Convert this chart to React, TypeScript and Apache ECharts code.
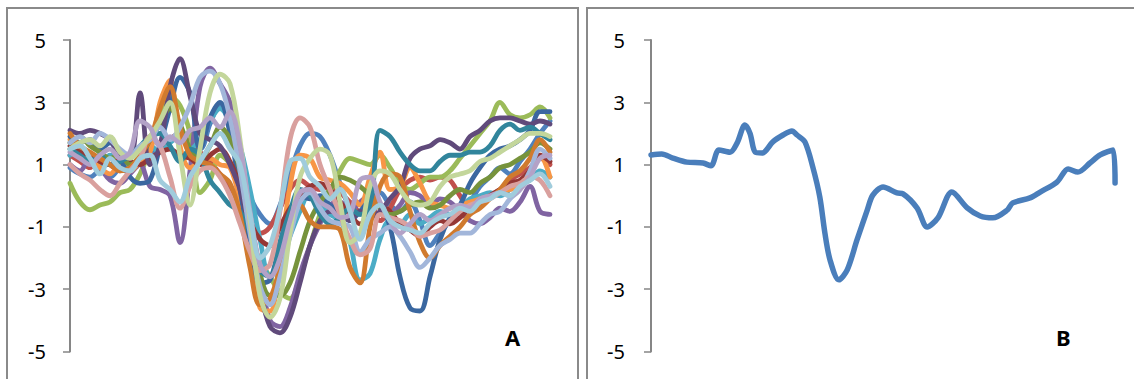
import React, { useEffect, useRef } from "react";
import * as echarts from "echarts";

// Panel A: sample positions (one every ~10 ms-equivalent step)
const samplesA: number[] = [
  0, 1, 2, 3, 4, 5, 6, 7, 8, 9, 10, 11, 12, 13, 14, 15, 16, 17, 18, 19, 20, 21, 22, 23, 24,
  25, 26, 27, 28, 29, 30, 31, 32, 33, 34, 35, 36, 37, 38, 39, 40, 41, 42, 43, 44, 45, 46, 47, 48,
];

const s01 = [0.9, 0.7, 0.6, 0.8, 0.6, 0.9, 1.1, 1.0, 1.3, 1.5, 1.8, 2.0, 1.6, 1.5, 2.3, 2.9, 2.6, 1.3, 0.0, -0.6, -0.9, -0.3, 0.7, 1.6, 2.0, 1.9, 1.3, 0.4, -0.4, -0.6, -0.2, 0.1, -0.3, -0.5, -0.2, -0.8, -1.6, -1.2, -0.8, -0.5, -0.2, 0.3, 0.6, 0.9, 0.7, 1.1, 1.5, 2.0, 2.4];
const s02 = [1.3, 1.1, 0.9, 1.2, 1.0, 0.8, 0.9, 1.2, 1.1, 1.5, 1.8, 2.0, 1.7, 1.4, 1.1, 0.7, 0.3, -0.3, -0.9, -1.2, -1.0, -0.4, 0.2, 0.5, 0.3, 0.2, 0.3, 0.1, -0.2, -0.5, -0.3, -0.8, -0.4, 0.2, 0.5, 0.6, 0.5, 0.6, 0.5, 0.0, -0.4, -0.2, 0.0, 0.2, 0.5, 0.7, 0.9, 1.2, 1.0];
const s03 = [0.4, -0.2, -0.45, -0.3, -0.2, 0.1, 0.2, 0.7, 1.5, 2.4, 3.2, 2.9, 2.0, 0.1, 0.5, 1.3, 1.0, 0.0, -1.2, -2.1, -2.6, -3.1, -3.3, -2.6, -1.6, -0.6, 0.1, 0.8, 1.2, 1.1, 1.0, 1.3, 0.9, 0.4, 0.2, 0.4, 0.6, 0.6, 0.8, 1.2, 1.6, 2.0, 2.4, 3.0, 2.6, 2.5, 2.6, 2.85, 2.5];
const s04 = [1.0, 0.8, 1.2, 0.9, 0.5, 0.4, 0.7, 1.0, 0.3, 0.2, 0.0, -1.5, 0.8, 3.5, 4.1, 3.6, 3.0, 1.5, -0.5, -2.5, -4.0, -4.2, -3.6, -2.5, -1.6, -0.9, -0.3, -0.2, -0.5, -0.2, 0.0, -0.3, -0.6, -0.3, 0.1, 0.0, -0.3, -0.1, -0.2, -0.5, -0.8, -0.9, -0.7, -0.4, -0.5, -0.2, 0.3, -0.5, -0.6];
const s05 = [1.3, 1.5, 1.2, 1.0, 1.3, 1.1, 0.9, 1.3, 1.6, 1.4, 1.7, 1.9, 1.5, 1.8, 2.4, 2.8, 2.4, 1.6, 0.2, -1.4, -2.6, -2.2, -1.3, -0.5, 0.1, -0.3, -0.6, -0.8, -1.5, -2.7, -2.5, -1.4, -0.8, -0.9, -0.6, -0.9, -0.7, -0.5, -0.6, -0.4, -0.1, 0.0, 0.1, 0.0, 0.2, 0.4, 0.5, 0.8, 0.6];
const s06 = [1.8, 1.4, 1.2, 0.9, 0.7, 1.0, 0.8, 1.1, 1.4, 3.0, 3.7, 1.6, 0.9, 1.1, 1.2, 1.0, 0.9, -0.2, -2.0, -3.6, -3.7, -2.0, 0.3, 1.3, 1.2, 0.6, 0.5, 0.4, 0.1, -0.3, 0.6, 1.4, 0.2, 0.3, 0.9, 0.4, -0.2, -0.3, -0.4, -0.3, -0.2, -0.1, 0.0, 0.1, 0.2, 0.3, 0.7, 1.3, 0.6];
const s07 = [1.9, 1.7, 1.8, 1.5, 1.7, 1.2, 0.6, 0.4, 0.5, 1.6, 2.8, 3.8, 3.3, 1.5, 2.5, 3.0, 2.0, 0.2, -1.6, -2.8, -2.7, -1.5, -0.5, 0.0, -0.1, 0.0, -0.3, -0.5, -0.8, -0.5, -0.2, -0.3, -1.0, -2.6, -3.6, -3.7, -2.6, -1.4, -0.7, -0.3, 0.4, 0.9, 1.3, 1.5, 1.6, 1.8, 2.1, 2.7, 2.7];
const s08 = [1.6, 1.4, 1.3, 1.1, 1.0, 1.2, 1.1, 1.0, 1.2, 1.4, 1.5, 1.3, 1.2, 1.0, 1.3, 1.5, 1.1, 0.3, -0.8, -1.4, -1.6, -1.0, -0.4, 0.0, 0.3, 0.4, 0.2, -0.2, -0.6, -0.9, -0.6, -0.3, -0.5, -0.9, -1.1, -1.3, -1.0, -0.8, -0.9, -0.7, -0.4, -0.3, 0.0, 0.2, 0.4, 0.5, 0.8, 1.3, 1.1];
const s09 = [1.7, 1.9, 1.6, 1.4, 1.2, 1.3, 1.0, 1.2, 1.8, 2.3, 2.8, 2.3, 1.5, 1.2, 1.6, 2.2, 1.8, 0.8, -0.8, -2.5, -3.2, -3.2, -2.8, -1.8, -0.8, -0.2, 0.2, 0.6, 0.5, 0.3, 0.0, -0.4, -0.6, -0.5, -0.3, -0.2, -0.4, -0.3, 0.0, 0.2, 0.1, 0.4, 0.6, 0.9, 1.0, 1.2, 1.4, 1.7, 1.5];
const s10 = [2.1, 2.0, 2.1, 2.0, 1.8, 1.3, 1.2, 3.3, 1.0, 1.6, 3.5, 4.4, 3.2, 2.0, 1.8, 1.6, 1.0, 0.2, -1.2, -3.0, -4.2, -4.4, -3.9, -2.8, -1.6, -0.8, -0.5, -0.6, -0.8, -0.5, -0.7, -0.5, -0.1, 0.3, 1.2, 1.5, 1.6, 1.8, 1.7, 1.5, 1.9, 2.1, 2.4, 2.5, 2.5, 2.4, 2.3, 2.4, 2.3];
const s11 = [1.5, 1.3, 1.1, 1.3, 1.0, 1.1, 1.3, 1.6, 1.9, 2.0, 1.6, 1.1, 1.5, 1.3, 0.5, 0.1, -0.3, -0.5, -1.2, -2.4, -2.6, -1.5, -0.5, 0.2, 0.0, -0.6, -0.9, -0.7, -0.4, -0.6, -0.4, 2.1, 1.9, 1.4, 1.0, 0.8, 0.8, 1.1, 1.3, 1.3, 1.4, 1.4, 1.6, 2.1, 2.3, 2.1, 2.2, 2.0, 1.8];
const s12 = [2.0, 1.6, 1.4, 1.2, 1.0, 0.8, 0.9, 1.3, 1.8, 2.8, 3.5, 2.2, 1.3, 1.1, 1.0, 0.7, 0.4, -0.6, -2.3, -3.5, -3.3, -2.3, -1.0, -0.3, -0.8, -1.0, -1.0, -1.1, -2.3, -2.8, -1.0, 0.3, 0.7, 0.6, -0.5, -1.5, -2.0, -1.6, -1.3, -1.0, -0.6, -0.4, -0.1, 0.2, 0.6, 0.8, 1.2, 1.8, 1.4];
const s13 = [1.7, 1.9, 1.7, 2.0, 1.8, 1.5, 1.3, 1.6, 1.8, 2.2, 1.8, 2.2, 2.9, 3.8, 4.0, 3.6, 2.5, 0.8, -1.2, -2.9, -3.5, -2.6, -1.3, -0.2, 0.1, -0.4, -0.8, -0.9, -1.0, -1.8, -1.4, -1.2, -1.0, -1.3, -1.8, -2.3, -2.0, -1.6, -1.4, -1.2, -1.2, -0.9, -0.6, -0.5, -0.1, 0.2, 0.8, 1.5, 1.2];
const s14 = [1.0, 0.7, 0.5, 0.2, 0.0, 0.4, 0.8, 1.2, 1.9, 1.6, 0.6, -0.4, 0.3, 0.8, 0.9, 0.6, 0.0, -0.9, -1.8, -2.4, -2.2, -0.5, 1.8, 2.5, 2.2, 1.0, 0.2, -0.6, -1.4, -1.9, -1.7, -0.6, -0.7, -0.8, -1.0, -1.3, -1.2, -1.1, -0.8, -0.5, -0.3, -0.2, -0.1, 0.1, 0.3, 0.4, 0.6, 0.5, 0.0];
const s15 = [1.5, 1.7, 1.8, 1.6, 1.9, 1.4, 1.2, 1.5, 1.9, 2.4, 3.0, 1.3, -0.3, 1.5, 3.3, 3.9, 3.6, 1.8, -0.8, -3.2, -3.9, -3.3, -1.2, 0.6, 1.2, 1.5, 1.3, -0.2, -1.5, -1.2, 0.3, 0.8, 0.7, 0.2, -0.2, -0.3, -0.2, 0.3, 0.6, 0.7, 0.8, 1.1, 1.2, 1.4, 1.6, 1.8, 2.0, 2.0, 1.9];
const s16 = [1.4, 1.2, 1.0, 1.3, 1.5, 1.2, 1.4, 2.4, 2.2, 1.6, 1.9, 1.7, 2.1, 2.2, 2.5, 2.2, 2.7, 1.6, -0.5, -2.2, -2.6, -2.0, -0.8, 0.1, 0.2, -0.2, -0.4, -0.7, -0.6, 0.5, 0.6, -0.2, -0.8, -1.2, -0.9, -0.6, -0.8, -0.6, -0.4, -0.3, -0.4, -0.1, 0.0, 0.1, 0.0, 0.2, 0.6, 1.2, 1.3];
const s17 = [1.5, 1.6, 1.2, 0.7, 1.2, 0.9, 0.8, 1.2, 1.3, 0.5, 0.2, -0.2, 0.6, 1.1, 1.6, 2.0, 1.5, 1.0, -0.6, -2.0, -1.6, -0.4, 1.1, 1.2, 0.6, 0.3, -0.1, 0.2, -0.5, -1.4, -0.6, -0.3, -0.8, -1.0, -1.1, -1.2, -0.9, -0.7, -0.6, -0.4, -0.5, -0.2, -0.1, 0.1, 0.0, 0.3, 0.5, 0.7, 0.3];

const seriesA = [s01, s02, s03, s04, s05, s06, s07, s08, s09, s10, s11, s12, s13, s14, s15, s16, s17];
const colorsA = [
  "#4F81BD", "#C0504D", "#9BBB59", "#8064A2", "#4BACC6", "#F79646",
  "#3A67A0", "#953735", "#77933C", "#604A7B", "#31859C", "#D07A2E",
  "#A2B6DA", "#D9A09E", "#C3D69B", "#B3A2C7", "#A0CCDC",
];

// Panel B: time position (0-100) and value
const timeB = [0, 2.3, 4.7, 7.7, 11.2, 12.9, 14.6, 17.0, 18.5, 20.2, 21.3, 22.4, 23.9, 26.2, 28.4, 30.3, 31.4, 33.1, 34.8, 36.3, 37.4, 38.5, 40.4, 42.2, 44.3, 46.5, 47.7, 49.9, 52.9, 54.2, 57.2, 59.4, 61.7, 64.7, 68.0, 70.8, 73.5, 76.6, 77.8, 81.5, 83.7, 87.3, 89.7, 91.8, 94.4, 96.6, 99.4, 99.8];
const valueB = [1.31, 1.34, 1.21, 1.08, 1.05, 0.96, 1.47, 1.40, 1.69, 2.27, 2.0, 1.4, 1.37, 1.73, 1.95, 2.08, 1.95, 1.73, 0.92, -0.04, -1.2, -2.06, -2.7, -2.38, -1.42, -0.46, 0.02, 0.28, 0.09, 0.06, -0.39, -1.0, -0.71, 0.12, -0.39, -0.65, -0.71, -0.46, -0.23, -0.07, 0.12, 0.44, 0.86, 0.76, 1.05, 1.31, 1.47, 0.41];

const yTicks = ["-5", "-3", "-1", "1", "3", "5"];

export default function App() {
  const ref = useRef<HTMLDivElement>(null);
  useEffect(() => {
    if (!ref.current) return;
    const chart = echarts.init(ref.current, null, { renderer: "svg" });
    const axisGray = "#868686";
    const yAxisCommon = {
      type: "value" as const,
      min: -5,
      max: 5,
      interval: 2,
      splitLine: { show: false },
      axisLine: { show: true, lineStyle: { color: axisGray, width: 2 } },
      axisTick: { show: true, inside: false, length: 7, lineStyle: { color: axisGray, width: 1.5 } },
      axisLabel: {
        margin: 24,
        color: "#000",
        fontSize: 20,
        fontFamily: "Noto Sans",
        formatter: (v: number) => (yTicks.includes(String(v)) ? String(v) : ""),
      },
    };
    const series: any[] = seriesA.map((s, i) => ({
      type: "line",
      xAxisIndex: 0,
      yAxisIndex: 0,
      data: s,
      smooth: 0.35,
      showSymbol: false,
      symbol: "none",
      lineStyle: { width: 4.8, cap: "round", join: "round", color: colorsA[i] },
      itemStyle: { color: colorsA[i] },
      z: 2 + i,
    }));
    series.push({
      type: "line",
      xAxisIndex: 1,
      yAxisIndex: 1,
      data: timeB.map((t, i) => [t, valueB[i]]),
      smooth: 0.3,
      showSymbol: false,
      symbol: "none",
      lineStyle: { width: 5.5, cap: "round", join: "round", color: "#4A7EBB" },
      itemStyle: { color: "#4A7EBB" },
    });
    chart.setOption({
      animation: false,
      backgroundColor: "#fff",
      grid: [
        { left: 70, right: 584, top: 40, bottom: 27.5 },
        { left: 651, right: 18, top: 40, bottom: 27.5 },
      ],
      xAxis: [
        { type: "category", gridIndex: 0, data: samplesA.map(String), boundaryGap: false, show: false },
        { type: "value", gridIndex: 1, min: 0, max: 100, show: false },
      ],
      yAxis: [
        { ...yAxisCommon, gridIndex: 0 },
        { ...yAxisCommon, gridIndex: 1, offset: 2 },
      ],
      graphic: [
        { type: "rect", shape: { x: 7, y: 8, width: 571, height: 420 }, style: { fill: "none", stroke: "#8A8A8A", lineWidth: 2 }, silent: true, z: 0 },
        { type: "rect", shape: { x: 587, y: 8, width: 600, height: 420 }, style: { fill: "none", stroke: "#8A8A8A", lineWidth: 2 }, silent: true, z: 0 },
        { type: "text", left: 505, top: 326, style: { text: "A", fontSize: 22, fontWeight: "bold", fontFamily: "Noto Sans", fill: "#000" }, z: 100 },
        { type: "text", left: 1056, top: 326, style: { text: "B", fontSize: 22, fontWeight: "bold", fontFamily: "Noto Sans", fill: "#000" }, z: 100 },
      ],
      series,
    });
    return () => chart.dispose();
  }, []);
  return <div ref={ref} style={{ position: "absolute", left: 0, top: 0, width: 1134, height: 379 }} />;
}
